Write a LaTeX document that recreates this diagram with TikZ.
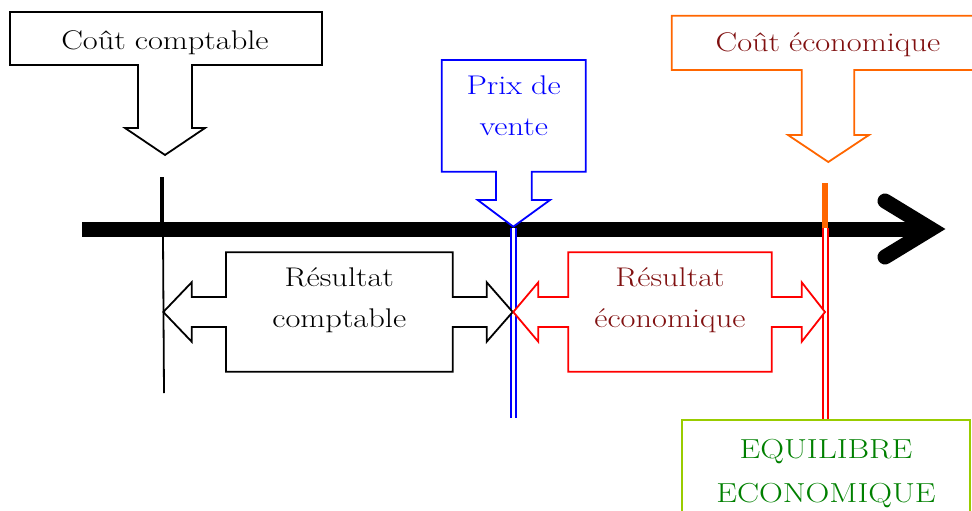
\documentclass[tikz,border=0pt]{standalone}
\usepackage{fontspec}
\setmainfont{Latin Modern Roman}[FakeStretch=1.2]
\definecolor{pvblue}{RGB}{0,0,255}
\definecolor{costorange}{RGB}{255,102,0}
\definecolor{darkred}{RGB}{128,16,16}
\definecolor{ecored}{RGB}{255,0,0}
\definecolor{eqgreen}{RGB}{0,128,0}
\definecolor{eqframe}{RGB}{153,204,0}
\begin{document}
\begin{tikzpicture}[x=1pt, y=-1pt,
  callout/.style={line width=1.8pt, fill=white, line join=miter},
  lbl/.style={inner sep=0pt, anchor=base, align=center, text width=#1},
  lbl/.default=300pt,
  bigtxt/.style={font=\fontsize{27}{40}\selectfont},
  midtxt/.style={font=\fontsize{27}{41}\selectfont},
  eqtxt/.style={font=\fontsize{27.5}{44}\selectfont},
  dline/.style={line width=1.8pt, double=white}
]
\useasboundingbox (0,0) rectangle (972,511);
\clip (0,0) rectangle (972,511);

% key points on the axis
\coordinate (axL) at (82,229);
\coordinate (axR) at (931,229);
\coordinate (ccTop) at (162,177);
\coordinate (ccBot) at (162,229);
\coordinate (ccLow1) at (163,236);
\coordinate (ccLow2) at (164,393);
\coordinate (pvTop) at (513.3,228);
\coordinate (pvBot) at (513.3,418);
\coordinate (ceTop) at (825,183);
\coordinate (ceBot) at (825,229);
\coordinate (eqTop) at (825.5,228);
\coordinate (eqBot) at (825.5,421);

% main axis with its open chevron head
\draw[line width=15pt] (axL) -- (axR);
\draw[line width=15pt, line cap=round, line join=miter] (885,201) -- (axR) -- (885,257);

% ticks
\draw[line width=4.5pt] (ccTop) -- (ccBot);
\draw[line width=1.8pt] (ccLow1) -- (ccLow2);
\draw[line width=5.5pt, costorange] (ceTop) -- (ceBot);

% callout: accounting cost
\draw[callout, draw=black] (10,12) -- (322,12) -- (322,65) -- (192,65) -- (192,128) -- (205,128)
  -- (165,155) -- (125,128) -- (138,128) -- (138,65) -- (10,65) -- cycle;
\node[lbl, bigtxt] (cc) at (165,49.5) {Coût comptable};

% callout: selling price
\draw[callout, draw=pvblue] (441.7,60) -- (585.7,60) -- (585.7,171.7) -- (531.7,171.7) -- (531.7,200)
  -- (550,200) -- (513.3,226.7) -- (477.7,200) -- (496,200) -- (496,171.7) -- (441.7,171.7) -- cycle;
\node[lbl=140pt, bigtxt, text=pvblue] (pv) at (513.7,95) {Prix de\\vente};

% callout: economic cost
\draw[callout, draw=costorange] (671.7,15.7) -- (990,15.7) -- (990,70) -- (854.3,70) -- (854.3,135)
  -- (869,135) -- (828.3,162) -- (788,135) -- (801.7,135) -- (801.7,70) -- (671.7,70) -- cycle;
\node[lbl, bigtxt, text=darkred] (ce) at (828,51.7) {Coût économique};

% vertical double lines
\draw[dline, draw=pvblue, double distance=2.8pt] (pvTop) -- (pvBot);
\draw[dline, draw=ecored, double distance=3.6pt] (eqTop) -- (eqBot);

% double arrow: accounting result
\draw[callout, draw=black] (163.3,312) -- (191.7,282.3) -- (191.7,297) -- (226,297) -- (226,252.3)
  -- (452.7,252.3) -- (452.7,297) -- (486.7,297) -- (486.7,282.3) -- (512.7,312)
  -- (486.7,341.7) -- (486.7,327) -- (452.7,327) -- (452.7,371.7) -- (226,371.7)
  -- (226,327) -- (191.7,327) -- (191.7,341.7) -- cycle;
\node[lbl=220pt, midtxt] (rc) at (339.3,286.7) {Résultat\\comptable};

% double arrow: economic result
\draw[callout, draw=ecored] (513.3,312) -- (538.3,282.3) -- (538.3,297) -- (568.3,297) -- (568.3,252.3)
  -- (771.7,252.3) -- (771.7,297) -- (801.7,297) -- (801.7,282.3) -- (825,312)
  -- (801.7,341.7) -- (801.7,327) -- (771.7,327) -- (771.7,371.7) -- (568.3,371.7)
  -- (568.3,327) -- (538.3,327) -- (538.3,341.7) -- cycle;
\node[lbl=220pt, midtxt, text=darkred] (re) at (670,286.7) {Résultat\\économique};

% economic equilibrium box
\draw[line width=2pt, eqframe] (681.7,420) rectangle (970,540);
\node[lbl=280pt, eqtxt, text=eqgreen] (eq) at (826,458) {EQUILIBRE\\ECONOMIQUE};
\end{tikzpicture}
\end{document}
